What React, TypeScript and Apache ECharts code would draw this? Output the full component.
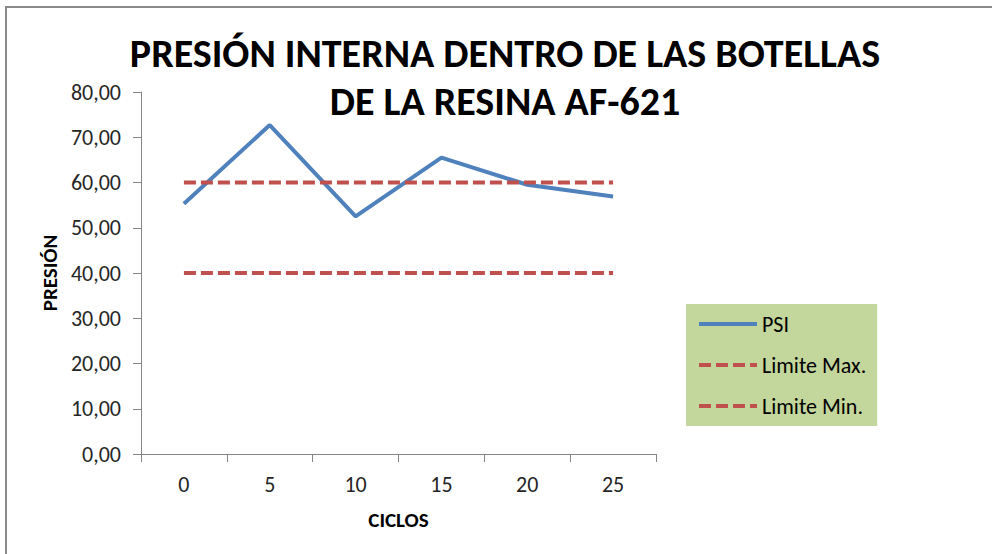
import React, { useEffect, useRef } from "react";
import * as echarts from "echarts";

const categories = ["0", "5", "10", "15", "20", "25"];
const psi = [55.3, 72.7, 52.5, 65.5, 59.5, 56.9];
const limiteMax = [60, 60, 60, 60, 60, 60];
const limiteMin = [40, 40, 40, 40, 40, 40];
const seriesNames = ["PSI", "Limite Max.", "Limite Min."];
const titleLines = ["PRESIÓN INTERNA DENTRO DE LAS BOTELLAS", "DE LA RESINA AF-621"];

const FONT = 'Carlito, "Liberation Sans Narrow", "Open Sans", sans-serif';

export default function App() {
  const ref = useRef<HTMLDivElement>(null);
  useEffect(() => {
    document.body.style.margin = "0";
    const chart = echarts.init(ref.current!, null, { renderer: "svg" });
    const axisLine = { show: true, lineStyle: { color: "#868686", width: 1 } };
    chart.setOption({
      animation: false,
      backgroundColor: "#ffffff",
      textStyle: { fontFamily: FONT },
      grid: { left: 141, right: 336, top: 92, bottom: 100, containLabel: false },
      graphic: [
        {
          type: "line",
          shape: { x1: 5, y1: 7, x2: 992, y2: 7 },
          style: { stroke: "#8a8a8a", lineWidth: 2 },
          silent: true,
        },
        {
          type: "line",
          shape: { x1: 6, y1: 7, x2: 6, y2: 554 },
          style: { stroke: "#8a8a8a", lineWidth: 2 },
          silent: true,
        },
        {
          type: "text",
          x: 505,
          y: 29,
          style: {
            text: titleLines.join("\n"),
            textAlign: "center",
            fontFamily: FONT,
            fontWeight: "bold",
            fontSize: 40,
            lineHeight: 48,
            fill: "#000000",
          },
        },
      ],
      legend: {
        left: 686,
        top: 304,
        orient: "vertical",
        backgroundColor: "#C3D69B",
        padding: [9, 11, 9, 11],
        itemGap: 19,
        itemWidth: 58,
        itemHeight: 14,
        itemTextGap: 5,
        itemStyle: { opacity: 0 },
        lineStyle: { width: 4 },
        textStyle: { fontFamily: FONT, fontSize: 22, color: "#000000" },
        data: seriesNames,
      },
      xAxis: {
        type: "category",
        data: categories,
        boundaryGap: true,
        axisLine,
        axisTick: { show: true, length: 8, lineStyle: { color: "#868686" } },
        axisLabel: { fontFamily: FONT, fontSize: 22, color: "#262626", margin: 19 },
        name: "CICLOS",
        nameLocation: "middle",
        nameGap: 55,
        nameTextStyle: { fontFamily: FONT, fontSize: 21, fontWeight: "bold", color: "#000000" },
        splitLine: { show: false },
      },
      yAxis: {
        type: "value",
        min: 0,
        max: 80,
        interval: 10,
        axisLine,
        axisTick: { show: true, length: 8, lineStyle: { color: "#868686" } },
        axisLabel: {
          fontFamily: FONT,
          fontSize: 22,
          color: "#262626",
          margin: 20,
          formatter: (v: number) => v.toFixed(2).replace(".", ","),
        },
        name: "PRESIÓN",
        nameLocation: "middle",
        nameGap: 80,
        nameRotate: 90,
        nameTextStyle: { fontFamily: FONT, fontSize: 21, fontWeight: "bold", color: "#000000" },
        splitLine: { show: false },
      },
      series: [
        {
          name: seriesNames[0],
          type: "line",
          data: psi,
          showSymbol: false,
          symbol: "none",
          lineStyle: { color: "#4F81BD", width: 4 },
          itemStyle: { color: "#4F81BD" },
        },
        {
          name: seriesNames[1],
          type: "line",
          data: limiteMax,
          showSymbol: false,
          symbol: "none",
          lineStyle: { color: "#C0504D", width: 4, type: [12, 5] },
          itemStyle: { color: "#C0504D" },
        },
        {
          name: seriesNames[2],
          type: "line",
          data: limiteMin,
          showSymbol: false,
          symbol: "none",
          lineStyle: { color: "#C0504D", width: 4, type: [12, 5] },
          itemStyle: { color: "#C0504D" },
        },
      ],
    });
    return () => chart.dispose();
  }, []);
  return <div ref={ref} style={{ width: 992, height: 554 }} />;
}
